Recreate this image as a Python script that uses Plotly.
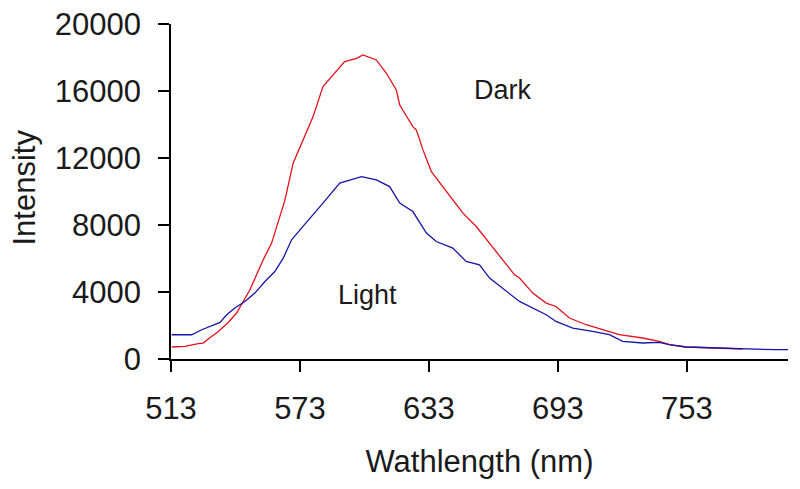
"""Fluorescence emission spectra, dark vs light."""

import plotly.graph_objects as go

# Dark (red) spectrum
dark_nm = [513.3, 519.5, 525.7, 528.0, 530.3, 535.0, 539.6, 543.5, 546.6, 549.7,
           552.8, 555.9, 559.8, 562.8, 566.0, 569.8, 574.4, 579.1, 583.7, 588.4,
           593.8, 599.3, 602.3, 608.5, 613.2, 617.8, 619.4, 621.7, 625.5, 627.1,
           630.2, 634.1, 639.5, 644.1, 648.8, 655.0, 661.2, 667.3, 672.8, 675.1,
           681.3, 687.5, 692.1, 698.3, 706.1, 713.8, 721.5, 732.4, 740.1, 744.8,
           752.5, 766.5, 778.8]
dark_intensity = [716, 752, 913, 954, 1193, 1646, 2183, 2744, 3436, 4134,
                  5028, 5923, 6919, 8112, 9484, 11691, 13080, 14471, 16260, 16958,
                  17751, 17954, 18151, 17853, 17059, 16063, 15169, 14673, 13874, 13677,
                  12484, 11190, 10295, 9502, 8709, 7909, 6919, 5923, 5028, 4831,
                  3937, 3340, 3137, 2446, 2046, 1748, 1450, 1253, 1050, 853,
                  716, 656, 596]

# Light (blue) spectrum
light_nm = [513.3, 522.6, 527.3, 531.9, 535.8, 538.9, 542.7, 547.4, 552.0, 556.7,
            561.3, 565.2, 569.1, 573.7, 578.3, 583.0, 591.5, 596.1, 601.6, 608.5,
            614.7, 619.4, 625.5, 631.8, 636.4, 644.1, 650.3, 656.5, 661.2, 675.1,
            681.3, 687.5, 692.1, 699.9, 709.1, 716.9, 723.1, 732.4, 740.1, 744.8,
            752.5, 766.5, 778.8, 794.4, 800.0]
light_intensity = [1449, 1449, 1748, 1986, 2183, 2642, 3042, 3436, 3937, 4629,
                   5225, 6024, 7116, 7814, 8488, 9204, 10498, 10695, 10892, 10695,
                   10295, 9305, 8804, 7516, 7015, 6621, 5822, 5625, 4831, 3436,
                   3042, 2642, 2243, 1849, 1646, 1449, 1050, 954, 990, 853,
                   716, 656, 596, 555, 555]

x_ticks = [513, 573, 633, 693, 753]
y_ticks = [0, 4000, 8000, 12000, 16000, 20000]

FONT = "Liberation Sans, Arial, sans-serif"
TXT = "#1a1a1a"

fig = go.Figure()
fig.add_trace(go.Scatter(x=dark_nm, y=dark_intensity, mode="lines",
                         line=dict(color="#e3101a", width=1.3), name="Dark"))
fig.add_trace(go.Scatter(x=light_nm, y=light_intensity, mode="lines",
                         line=dict(color="#1414a8", width=1.3), name="Light"))

fig.add_annotation(x=667.4, y=16063, text="Dark", showarrow=False,
                   font=dict(family=FONT, size=27, color=TXT))
fig.add_annotation(x=604.5, y=3835, text="Light", showarrow=False,
                   font=dict(family=FONT, size=27, color=TXT))

# y axis title as an annotation so it can sit close to the page edge
fig.add_annotation(xref="paper", yref="paper", x=0, y=0.5, text="Intensity",
                   textangle=-90, showarrow=False, xanchor="center",
                   yanchor="middle", xshift=-147, yshift=4, borderpad=0,
                   font=dict(family=FONT, size=31, color=TXT))

# page body has an 8px margin, so shift the plot area up/left by 8
fig.update_layout(
    width=800, height=489,
    margin=dict(l=163, r=20, t=16, b=138),
    plot_bgcolor="white", paper_bgcolor="white",
    showlegend=False,
    font=dict(family=FONT, size=31, color=TXT),
)
fig.update_xaxes(
    range=[513, 800], tickvals=x_ticks, ticks="outside", ticklen=11,
    tickwidth=1.5, tickcolor="black", showline=True, linecolor="black",
    linewidth=1.5, showgrid=False, zeroline=False, ticklabelstandoff=10,
    automargin=False, ticklabeloverflow="allow",
    title=dict(text="Wathlength (nm)", standoff=25,
               font=dict(family=FONT, size=31, color=TXT)),
)
fig.update_yaxes(
    range=[0, 20000], tickvals=y_ticks, tickformat="d", ticks="outside",
    ticklen=11, tickwidth=1.5, tickcolor="black", showline=True,
    linecolor="black", linewidth=1.5, showgrid=False, zeroline=False,
    ticklabelstandoff=11, automargin=False, ticklabeloverflow="allow",
)

fig.write_html("out.html")
